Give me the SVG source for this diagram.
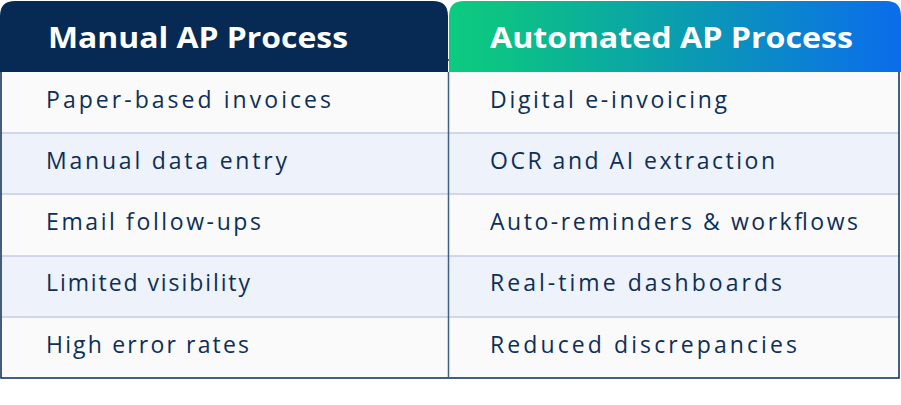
<svg xmlns="http://www.w3.org/2000/svg" width="901" height="405" viewBox="0 0 901 405">
<defs>
<linearGradient id="g" x1="0" x2="1" y1="0" y2="0">
<stop offset="0" stop-color="#0ccb80"/><stop offset="0.12" stop-color="#0cc285"/><stop offset="0.45" stop-color="#0aa3a8"/><stop offset="1" stop-color="#0b6cec"/>
</linearGradient>
<style>
.t{font-family:"Open Sans","DejaVu Sans",sans-serif;font-size:23px;fill:#0d2f57}
.h{font-family:"Open Sans","DejaVu Sans",sans-serif;font-size:28px;font-weight:700;fill:#fff}
.a{fill:#fafafa}.b{fill:#eef2fa}
.d{stroke:#c5cde0;stroke-width:1.5}
</style>
</defs>
<g id="rows">
<rect class="a" x="1" y="72" width="898" height="61"/>
<rect class="b" x="1" y="133" width="898" height="61"/>
<rect class="a" x="1" y="194" width="898" height="62"/>
<rect class="b" x="1" y="256" width="898" height="61"/>
<rect class="a" x="1" y="317" width="898" height="61"/>
<line class="d" x1="1" y1="133" x2="899" y2="133"/>
<line class="d" x1="1" y1="194" x2="899" y2="194"/>
<line class="d" x1="1" y1="256" x2="899" y2="256"/>
<line class="d" x1="1" y1="317" x2="899" y2="317"/>
<rect x="1" y="60" width="898" height="318" fill="none" stroke="#062a54" stroke-width="1.5"/>
<line x1="448.5" y1="72" x2="448.5" y2="378" stroke="#3f5f85" stroke-width="1.5"/>
</g>
<g id="manual-header">
<path d="M0 72 V16 Q0 1 15 1 H433 Q448 1 448 16 V72 Z" fill="#062a54"/>
<text class="h" x="48" y="48" textLength="300" lengthAdjust="spacingAndGlyphs">Manual AP Process</text>
</g>
<g id="auto-header">
<path d="M449 72 V16 Q449 1 464 1 H886 Q901 1 901 16 V72 Z" fill="url(#g)"/>
<text class="h" x="490" y="48" textLength="363" lengthAdjust="spacingAndGlyphs">Automated AP Process</text>
</g>
<g id="manual-items">
<text class="t" x="46" y="108" textLength="285">Paper-based invoices</text>
<text class="t" x="46" y="169" textLength="241">Manual data entry</text>
<text class="t" x="46" y="230" textLength="215">Email follow-ups</text>
<text class="t" x="46" y="291" textLength="204">Limited visibility</text>
<text class="t" x="46" y="353" textLength="203">High error rates</text>
</g>
<g id="auto-items">
<text class="t" x="490" y="108" textLength="237">Digital e-invoicing</text>
<text class="t" x="490" y="169" textLength="285">OCR and AI extraction</text>
<text class="t" x="490" y="230" textLength="368">Auto-reminders &amp; workflows</text>
<text class="t" x="490" y="291" textLength="292">Real-time dashboards</text>
<text class="t" x="490" y="353" textLength="307">Reduced discrepancies</text>
</g>
</svg>
